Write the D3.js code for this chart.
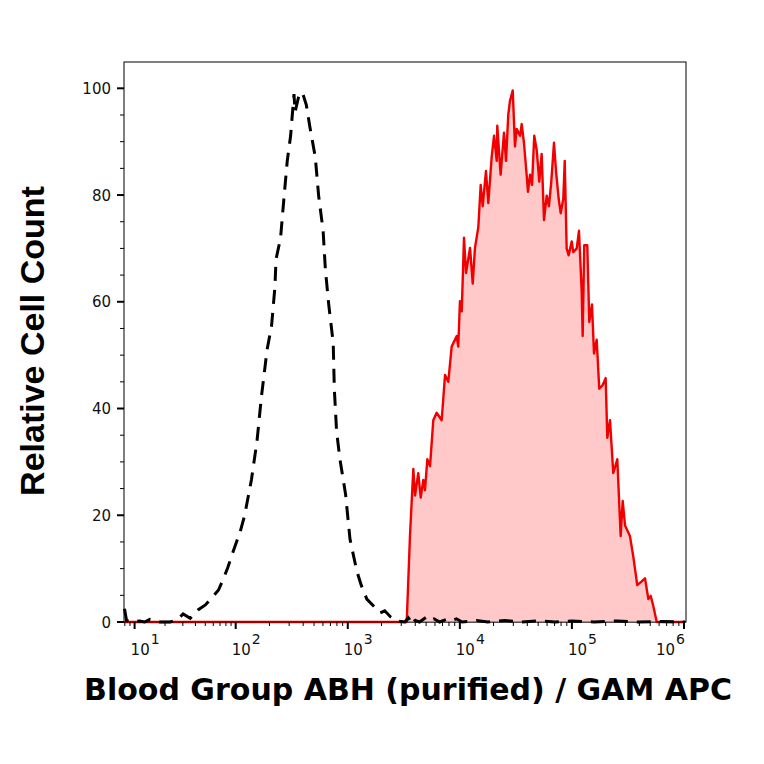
<!DOCTYPE html>
<html>
<head>
<meta charset="utf-8">
<script src="https://cdn.jsdelivr.net/npm/d3@7"></script>
<style>
  body { margin: 0; background: #fff; }
  .tick-label { font-family: "DejaVu Sans", Verdana, sans-serif; font-size: 15px; fill: #111; }
  .x-title { font-family: "DejaVu Sans", Verdana, sans-serif; font-weight: bold; font-size: 30px; }
  .y-title { font-family: "Liberation Sans", Arial, sans-serif; font-weight: bold; font-size: 34px; }
</style>
</head>
<body>
<svg width="764" height="764"></svg>
<script>
const width = 764;
const height = 764;

// isotype control (black dashed), x in decades (log10 of intensity)
const isotypeLog = [0.90, 0.92, 0.96, 1.05, 1.10, 1.15, 1.20, 1.25, 1.35, 1.42, 1.48, 1.55, 1.63, 1.70, 1.78, 1.83,
    1.88, 1.92, 1.98, 2.04, 2.08, 2.14, 2.19, 2.23, 2.28, 2.32, 2.35, 2.36, 2.40, 2.43, 2.46, 2.49, 2.52, 2.53,
    2.56, 2.58, 2.60, 2.63, 2.66, 2.71, 2.74, 2.78, 2.80, 2.83, 2.87, 2.88, 2.90, 2.93, 2.98, 3.02, 3.08, 3.12,
    3.17, 3.23, 3.29, 3.33, 3.38, 3.44, 3.51, 3.54, 3.56, 3.58, 3.60, 3.64, 3.70, 3.73, 3.77, 3.82, 3.88, 3.92,
    3.97, 4.02, 4.15, 4.25, 4.40, 4.55, 4.70, 4.85, 5.00, 5.20, 5.40, 5.60, 5.80, 6.01];
const isotypeCount = [2.5, 0.3, 0, 0.2, 0, 0.5, 0.3, 0, 0, 0.4, 1.5, 0.7, 2.3, 3.2, 4.9, 6.0,
    8.2, 10.1, 13.5, 16.9, 20.0, 26.6, 33.9, 42.3, 51.0, 55.5, 62.8, 68.0, 71.9, 79.3, 86.4, 91.1, 98.9, 95.6,
    98.3, 99.3, 98.9, 96.9, 93.0, 87.1, 79.9, 73.3, 66.1, 59.5, 52.3, 43.7, 35.8, 30.5, 24.0, 15.5, 9.6, 6.9,
    4.3, 3.0, 1.7, 2.1, 1.0, 0.2, 0, 0.8, 0.2, 1.0, 0.3, 0, 0.9, 0.3, 0.6, 0, 0.5, 0.2,
    0.6, 0, 0.3, 0, 0.3, 0, 0.2, 0, 0.2, 0, 0.2, 0, 0.1, 0];

// stained sample (red filled)
const stainedLog = [0.90, 3.526, 3.555, 3.585, 3.600, 3.629, 3.651, 3.674, 3.689, 3.710, 3.734, 3.763, 3.793,
    3.838, 3.868, 3.897, 3.927, 3.972, 3.986, 4.001, 4.017, 4.037, 4.055, 4.091, 4.115, 4.135, 4.165, 4.186,
    4.204, 4.233, 4.254, 4.284, 4.305, 4.329, 4.334, 4.364, 4.394, 4.412, 4.432, 4.447, 4.472, 4.492, 4.507,
    4.537, 4.552, 4.572, 4.596, 4.608, 4.626, 4.644, 4.664, 4.686, 4.709, 4.730, 4.751, 4.775, 4.795, 4.816,
    4.840, 4.858, 4.882, 4.900, 4.923, 4.936, 4.953, 4.971, 4.998, 5.012, 5.043, 5.063, 5.087, 5.096, 5.110,
    5.137, 5.155, 5.179, 5.197, 5.221, 5.244, 5.275, 5.301, 5.316, 5.340, 5.369, 5.405, 5.435, 5.453, 5.474,
    5.518, 5.548, 5.583, 5.623, 5.652, 5.682, 5.703, 5.726, 5.757, 6.01];
const stainedCount = [0, 0, 16.1, 28.7, 23.7, 27.9, 23.3, 26.6, 24.7, 30.5, 29.2, 37.8, 39.2,
    37.8, 46.3, 45.0, 51.6, 53.6, 51.6, 60.1, 58.2, 72.0, 65.4, 70.1, 63.4, 70.1, 74.0, 81.9,
    77.9, 84.5, 78.5, 87.1, 91.1, 86.4, 93.0, 83.8, 91.7, 86.4, 95.0, 97.6, 99.6, 89.1, 92.4,
    91.1, 93.3, 89.8, 83.8, 80.6, 83.8, 81.9, 91.1, 88.4, 82.5, 87.7, 75.3, 79.9, 77.9, 82.5,
    89.8, 84.5, 79.3, 76.6, 79.3, 86.4, 70.0, 68.7, 71.3, 69.3, 70.0, 73.3, 62.1, 53.6, 70.6,
    70.6, 56.2, 59.5, 50.3, 52.9, 43.7, 44.4, 45.7, 34.5, 37.8, 27.9, 30.5, 16.1, 22.7, 18.1,
    16.1, 12.2, 6.9, 7.6, 8.2, 4.3, 4.9, 3.0, 0, 0];

const yTicks = [0, 20, 40, 60, 80, 100];
const xDecades = [1, 2, 3, 4, 5, 6];

const plot = { left: 124, right: 686, top: 62, bottom: 622 };

const svg = d3.select("svg");

// x scale: log, lowest decade slightly compressed (biexponential display)
const xScale = d3.scaleLog()
    .domain([Math.pow(10, 0.895), 10, 100, Math.pow(10, 6.018)])
    .range([plot.left, 134.6, 235.7, plot.right]);

// y scale
const yScale = d3.scaleLinear()
    .domain([0, 104.93])
    .range([plot.bottom, plot.top]);

const isotype = isotypeLog.map((d, i) => ({ x: Math.pow(10, d), y: isotypeCount[i] }));
const stained = stainedLog.map((d, i) => ({ x: Math.pow(10, d), y: stainedCount[i] }));

// frame
svg.append("rect")
    .attr("x", plot.left)
    .attr("y", plot.top)
    .attr("width", plot.right - plot.left)
    .attr("height", plot.bottom - plot.top)
    .attr("fill", "none")
    .attr("stroke", "#000")
    .attr("stroke-width", 1);

// red filled histogram
const area = d3.area()
    .x(d => xScale(d.x))
    .y0(yScale(0))
    .y1(d => yScale(d.y));

svg.append("path")
    .datum(stained)
    .attr("d", area)
    .attr("fill", "#ffc9c9");

const line = d3.line()
    .x(d => xScale(d.x))
    .y(d => yScale(d.y));

svg.append("path")
    .datum(stained)
    .attr("d", line)
    .attr("fill", "none")
    .attr("stroke", "#f00000")
    .attr("stroke-width", 2.4)
    .attr("stroke-linejoin", "round");

// x axis line over the red baseline
svg.append("line")
    .attr("x1", plot.left)
    .attr("x2", plot.right)
    .attr("y1", plot.bottom)
    .attr("y2", plot.bottom)
    .attr("stroke", "#000")
    .attr("stroke-opacity", 0.45)
    .attr("stroke-width", 1.5);

// black dashed histogram
svg.append("path")
    .datum(isotype)
    .attr("d", line)
    .attr("fill", "none")
    .attr("stroke", "#000")
    .attr("stroke-width", 3)
    .attr("stroke-dasharray", "14,9");

// x ticks
const minorX = [];
for (let k = 0; k <= 5; k++) {
    for (let m = 2; m <= 9; m++) minorX.push(m * Math.pow(10, k));
}
const [xLo, xHi] = [xScale.domain()[0], xScale.domain()[3]];

svg.append("g").selectAll("line")
    .data(minorX.filter(v => v >= xLo && v <= xHi))
    .join("line")
    .attr("x1", d => xScale(d))
    .attr("x2", d => xScale(d))
    .attr("y1", plot.bottom)
    .attr("y2", plot.bottom + 4)
    .attr("stroke", "#000")
    .attr("stroke-width", 1);

svg.append("g").selectAll("line")
    .data(xDecades)
    .join("line")
    .attr("x1", d => xScale(Math.pow(10, d)))
    .attr("x2", d => xScale(Math.pow(10, d)))
    .attr("y1", plot.bottom)
    .attr("y2", plot.bottom + 7)
    .attr("stroke", "#000")
    .attr("stroke-width", 2);

const xLabels = svg.append("g").selectAll("text")
    .data(xDecades)
    .join("text")
    .attr("class", "tick-label")
    .attr("x", (d, i) => i === xDecades.length - 1 ? xScale(Math.pow(10, d)) + 1 : xScale(Math.pow(10, d)) - 4)
    .attr("y", 655)
    .attr("text-anchor", (d, i) => i === xDecades.length - 1 ? "end" : "start");

xLabels.append("tspan").text("10");
xLabels.append("tspan")
    .attr("dy", -11)
    .attr("dx", 1)
    .style("font-size", "14px")
    .text(d => d);

// y ticks
const minorY = d3.range(5, 101, 5).filter(v => v % 20 !== 0);

svg.append("g").selectAll("line")
    .data(minorY)
    .join("line")
    .attr("x1", plot.left - 4)
    .attr("x2", plot.left)
    .attr("y1", d => yScale(d))
    .attr("y2", d => yScale(d))
    .attr("stroke", "#000")
    .attr("stroke-width", 1);

svg.append("g").selectAll("line")
    .data(yTicks)
    .join("line")
    .attr("x1", plot.left - 7)
    .attr("x2", plot.left)
    .attr("y1", d => yScale(d))
    .attr("y2", d => yScale(d))
    .attr("stroke", "#000")
    .attr("stroke-width", 2);

svg.append("g").selectAll("text")
    .data(yTicks)
    .join("text")
    .attr("class", "tick-label")
    .attr("x", 111)
    .attr("y", d => yScale(d) + 5.5)
    .attr("text-anchor", "end")
    .text(d => d);

// axis titles
svg.append("text")
    .attr("class", "x-title")
    .attr("x", 408)
    .attr("y", 700)
    .attr("text-anchor", "middle")
    .text("Blood Group ABH (purified) / GAM APC");

svg.append("text")
    .attr("class", "y-title")
    .attr("transform", "rotate(-90)")
    .attr("x", -341)
    .attr("y", 44)
    .attr("text-anchor", "middle")
    .text("Relative Cell Count");
</script>
</body>
</html>
